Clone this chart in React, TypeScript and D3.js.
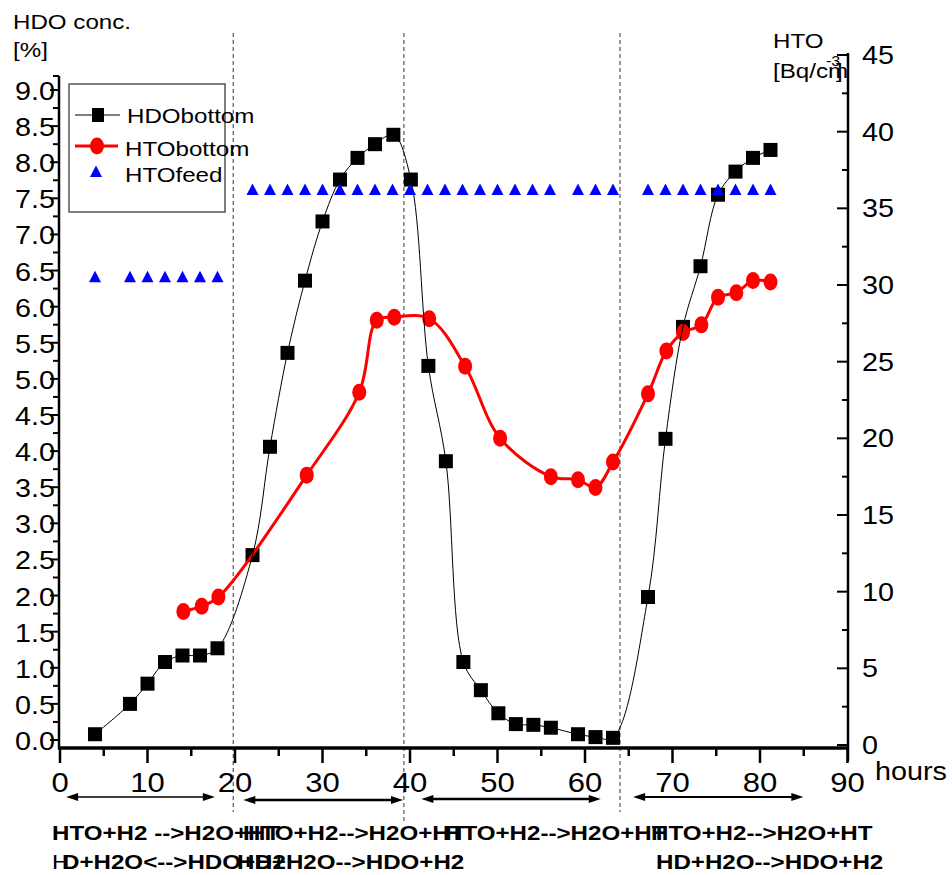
import React from "react";
import * as d3 from "d3";

// ---- data ----
const hdoTime = [4, 8, 10, 12, 14, 16, 18, 22, 24, 26, 28, 30, 32, 34, 36, 38.1, 40.1, 42.1, 44.1, 46.1, 48.1, 50.1, 52.1, 54.1, 56.1, 59.2, 61.2, 63.2, 67.2, 69.2, 71.2, 73.2, 75.2, 77.2, 79.2, 81.2];
const hdoBottom = [0.08, 0.5, 0.78, 1.08, 1.17, 1.17, 1.27, 2.56, 4.06, 5.36, 6.36, 7.18, 7.76, 8.06, 8.25, 8.38, 7.76, 5.18, 3.86, 1.08, 0.69, 0.37, 0.22, 0.21, 0.17, 0.08, 0.04, 0.03, 1.98, 4.17, 5.72, 6.56, 7.55, 7.87, 8.06, 8.17];

const htoTime = [14.1, 16.2, 18.1, 28.2, 34.2, 36.2, 38.2, 42.2, 46.3, 50.3, 56.1, 59.2, 61.2, 63.2, 67.2, 69.3, 71.2, 73.3, 75.2, 77.3, 79.2, 81.2];
const htoBottom = [8.7, 9.05, 9.65, 17.6, 23.0, 27.7, 27.9, 27.8, 24.7, 20.0, 17.5, 17.3, 16.8, 18.45, 22.9, 25.7, 26.9, 27.4, 29.2, 29.5, 30.3, 30.2];

const feedTime = [4, 8, 10, 12, 14, 16, 18, 22, 24, 26, 28, 30, 32, 34, 36, 38, 40, 42, 44, 46, 48, 50, 52, 54, 56, 59.2, 61.2, 63.2, 67.2, 69.2, 71.2, 73.2, 75.2, 77.2, 79.2, 81.2];
const feedValue = [30.5, 30.5, 30.5, 30.5, 30.5, 30.5, 30.5, 36.2, 36.2, 36.2, 36.2, 36.2, 36.2, 36.2, 36.2, 36.2, 36.2, 36.2, 36.2, 36.2, 36.2, 36.2, 36.2, 36.2, 36.2, 36.2, 36.2, 36.2, 36.2, 36.2, 36.2, 36.2, 36.2, 36.2, 36.2, 36.2];

const xTicks = [0, 10, 20, 30, 40, 50, 60, 70, 80, 90];
const xMinorTicks = [5, 15, 25, 35, 45, 55, 65, 75, 85];
const leftTicks = [0, 0.5, 1, 1.5, 2, 2.5, 3, 3.5, 4, 4.5, 5, 5.5, 6, 6.5, 7, 7.5, 8, 8.5, 9];
const leftMinor = [0.25, 0.75, 1.25, 1.75, 2.25, 2.75, 3.25, 3.75, 4.25, 4.75, 5.25, 5.75, 6.25, 6.75, 7.25, 7.75, 8.25, 8.75];
const rightTicks = [0, 5, 10, 15, 20, 25, 30, 35, 40, 45];
const rightMinor = [2.5, 7.5, 12.5, 17.5, 22.5, 27.5, 32.5, 37.5, 42.5];

const phaseBounds = [19.8, 39.3, 64.0];
const phaseArrowStart = [0.7, 20.95, 41.3, 65.5];
const phaseArrowEnd = [17.7, 39.2, 61.8, 84.95];

const reactionLine1 = ["HTO+H2 -->H2O+HT", "HTO+H2-->H2O+HT", "HTO+H2-->H2O+HT", "HTO+H2-->H2O+HT"];
const reactionLine2 = ["D+H2O<-->HDO+H2", "HD+H2O-->HDO+H2", "", "HD+H2O-->HDO+H2"];

const FONT = "'Liberation Sans', Arial, Helvetica, sans-serif";

function T(props: any) {
  const { x, y, size, anchor = "start", weight = "normal", fill = "#000", children } = props;
  return (
    <text
      transform={`translate(${x},${y}) scale(1.15,1)`}
      fontSize={size}
      textAnchor={anchor}
      fontWeight={weight}
      fontFamily={FONT}
      fill={fill}
    >
      {children}
    </text>
  );
}

export default function App() {
  const W = 952, H = 875;
  const x = d3.scaleLinear().domain([0, 90]).range([60, 847.5]);
  const yL = d3.scaleLinear().domain([0, 9]).range([740, 90]);
  const yR = d3.scaleLinear().domain([0, 45]).range([745, 55]);

  const hdoPts = hdoTime.map((t, i) => [t, hdoBottom[i]] as [number, number]);
  const htoPts = htoTime.map((t, i) => [t, htoBottom[i]] as [number, number]);

  const hdoLine = d3.line<[number, number]>()
    .x(d => x(d[0])).y(d => yL(d[1]))
    .curve(d3.curveCatmullRom.alpha(0.5));
  const htoLine = d3.line<[number, number]>()
    .x(d => x(d[0])).y(d => yR(d[1]))
    .curve(d3.curveCatmullRom.alpha(0.5));

  const tri = (cx: number, cy: number) =>
    `M${cx},${cy - 6.5}L${cx + 6},${cy + 5}L${cx - 6},${cy + 5}Z`;

  const arrowY = [797, 800, 799, 797];
  const arrowW = [1.3, 2.5, 2.5, 1.8];
  const dashBottom = [812, 822, 812];

  const l1x = [52, 243, 445, 651];
  const l2x = [62, 237, 0, 656];

  return (
    <svg width={W} height={H} style={{ position: "absolute", left: 0, top: 0, background: "#fff" }}>
      <rect x={0} y={0} width={W} height={H} fill="#fff" />

      {/* phase boundaries */}
      {phaseBounds.map((t, i) => (
        <line key={"pb" + i} x1={x(t)} x2={x(t)} y1={33} y2={dashBottom[i]}
          stroke="#555" strokeWidth={1.2} strokeDasharray="4,3" />
      ))}

      {/* HDO squares */}
      {hdoPts.map((d, i) => (
        <rect key={"sq" + i} x={x(d[0]) - 7} y={yL(d[1]) - 7} width={14} height={14} fill="#000" />
      ))}

      {/* HTO red line & circles */}
      <path d={htoLine(htoPts) || ""} fill="none" stroke="#ff0000" strokeWidth={3} />
      {htoPts.map((d, i) => (
        <ellipse key={"c" + i} cx={x(d[0])} cy={yR(d[1])} rx={7} ry={8.5} fill="#ff0000" />
      ))}

      {/* HDO line */}
      <path d={hdoLine(hdoPts) || ""} fill="none" stroke="#000" strokeWidth={1} />

      {/* feed triangles */}
      {feedTime.map((t, i) => (
        <path key={"t" + i} d={tri(x(t), yR(feedValue[i]))} fill="#0000ff" />
      ))}

      {/* axes lines */}
      <line x1={59} x2={59} y1={76} y2={749} stroke="#000" strokeWidth={2.5} />
      <line x1={53} x2={59} y1={76} y2={76} stroke="#000" strokeWidth={2} />
      <line x1={58} x2={849} y1={748} y2={748} stroke="#000" strokeWidth={3.5} />
      <line x1={848} x2={848} y1={53} y2={761} stroke="#000" strokeWidth={2.5} />

      {/* bottom ticks */}
      {xTicks.map(t => (
        <g key={"xt" + t}>
          <line x1={x(t)} x2={x(t)} y1={748} y2={763} stroke="#000" strokeWidth={2.5} />
          <T x={x(t)} y={792} size={27} anchor="middle">{t}</T>
        </g>
      ))}
      {xMinorTicks.map(t => (
        <line key={"xm" + t} x1={x(t)} x2={x(t)} y1={748} y2={756} stroke="#000" strokeWidth={2.5} />
      ))}

      {/* left ticks */}
      {leftTicks.map(v => (
        <g key={"lt" + v}>
          <line x1={50} x2={59} y1={yL(v)} y2={yL(v)} stroke="#000" strokeWidth={2} />
          <T x={55} y={yL(v) + 10} size={25} anchor="end">{v.toFixed(1)}</T>
        </g>
      ))}
      {leftMinor.map(v => (
        <line key={"lm" + v} x1={53} x2={59} y1={yL(v)} y2={yL(v)} stroke="#000" strokeWidth={2} />
      ))}

      {/* right ticks */}
      {rightTicks.map(v => (
        <g key={"rt" + v}>
          <line x1={837} x2={848} y1={yR(v)} y2={yR(v)} stroke="#000" strokeWidth={2} />
          <T x={862} y={yR(v) + 9} size={25}>{v}</T>
        </g>
      ))}
      {rightMinor.map(v => (
        <line key={"rm" + v} x1={842} x2={848} y1={yR(v)} y2={yR(v)} stroke="#000" strokeWidth={2} />
      ))}

      {/* axis titles */}
      <T x={13} y={29} size={21}>HDO conc.</T>
      <T x={13} y={57} size={21}>[%]</T>
      <T x={773} y={48} size={21}>HTO</T>
      <T x={773} y={78} size={21}>[Bq/cm</T>
      <T x={826} y={66} size={14}>-3</T>
      <T x={836} y={78} size={21}>]</T>
      <T x={875} y={780} size={25}>hours</T>

      {/* legend */}
      <rect x={69} y={84} width={156} height={128} fill="none" stroke="#555" strokeWidth={1.5} />
      <line x1={75} x2={120} y1={115} y2={115} stroke="#000" strokeWidth={1} />
      <rect x={92} y={108} width={12} height={14} fill="#000" />
      <T x={127} y={123} size={21}>HDObottom</T>
      <line x1={75} x2={118} y1={146} y2={146} stroke="#ff0000" strokeWidth={3} />
      <ellipse cx={97} cy={146} rx={7} ry={8.5} fill="#ff0000" />
      <T x={125} y={156} size={21}>HTObottom</T>
      <path d={tri(96, 172)} fill="#0000ff" />
      <T x={125} y={182} size={21}>HTOfeed</T>

      {/* phase arrows */}
      {phaseArrowStart.map((t, i) => {
        const x1 = x(t), x2 = x(phaseArrowEnd[i]), yy = arrowY[i];
        return (
          <g key={"ar" + i}>
            <line x1={x1 + 8} x2={x2 - 8} y1={yy} y2={yy} stroke="#000" strokeWidth={arrowW[i]} />
            <path d={`M${x1},${yy}L${x1 + 12},${yy - 4}L${x1 + 12},${yy + 4}Z`} fill="#000" />
            <path d={`M${x2},${yy}L${x2 - 12},${yy - 4}L${x2 - 12},${yy + 4}Z`} fill="#000" />
          </g>
        );
      })}

      {/* reaction labels */}
      {reactionLine1.map((s, i) => (
        <T key={"r1" + i} x={l1x[i]} y={840} size={21} weight="bold">{s}</T>
      ))}
      <T x={52} y={869} size={21}>H</T>
      {reactionLine2.map((s, i) => s ? (
        <T key={"r2" + i} x={l2x[i]} y={869} size={21} weight="bold">{s}</T>
      ) : null)}
    </svg>
  );
}
